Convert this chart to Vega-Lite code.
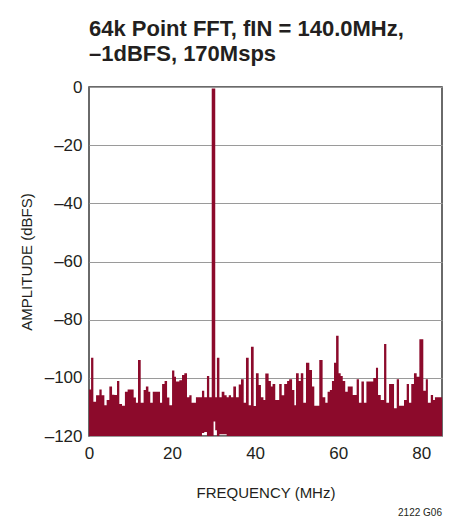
{
  "$schema": "https://vega.github.io/schema/vega-lite/v6.json",
  "width": 353,
  "height": 349,
  "autosize": {"type": "none"},
  "padding": {"left": 89, "top": 87, "right": 9, "bottom": 85},
  "title": {
    "text": ["64k Point FFT, fIN = 140.0MHz,", "–1dBFS, 170Msps"],
    "anchor": "start",
    "frame": "group",
    "font": "Liberation Sans",
    "fontSize": 22,
    "fontWeight": "bold",
    "lineHeight": 25,
    "offset": 12,
    "color": "#231f20"
  },
  "config": {
    "view": {"stroke": "#3a3a3a", "strokeWidth": 1.5},
    "font": "Liberation Sans"
  },
  "data": {
    "values": [
      {"f": 0.0, "db": -104, "lo": -120}, {"f": 0.5, "db": -93.1, "lo": -120}, {"f": 1.05, "db": -108.2, "lo": -120},
      {"f": 1.7, "db": -106, "lo": -120}, {"f": 2.5, "db": -104, "lo": -120}, {"f": 3.05, "db": -106, "lo": -120},
      {"f": 3.7, "db": -109.4, "lo": -120}, {"f": 4.25, "db": -107.6, "lo": -120}, {"f": 4.9, "db": -103, "lo": -120},
      {"f": 5.55, "db": -105.8, "lo": -120}, {"f": 6.1, "db": -105.9, "lo": -120}, {"f": 6.75, "db": -101.1, "lo": -120},
      {"f": 7.3, "db": -109, "lo": -120}, {"f": 7.95, "db": -109.6, "lo": -120}, {"f": 8.65, "db": -104.8, "lo": -120},
      {"f": 9.3, "db": -104, "lo": -120}, {"f": 10.75, "db": -106.8, "lo": -120}, {"f": 11.3, "db": -108.6, "lo": -120},
      {"f": 11.8, "db": -93.9, "lo": -120}, {"f": 12.45, "db": -108.6, "lo": -120}, {"f": 13.15, "db": -104.2, "lo": -120},
      {"f": 13.7, "db": -103, "lo": -120}, {"f": 14.3, "db": -104.8, "lo": -120}, {"f": 14.75, "db": -108.6, "lo": -120},
      {"f": 15.35, "db": -104.8, "lo": -120}, {"f": 17.1, "db": -108.6, "lo": -120}, {"f": 17.6, "db": -102.1, "lo": -120},
      {"f": 18.2, "db": -101.1, "lo": -120}, {"f": 18.8, "db": -106.8, "lo": -120}, {"f": 19.35, "db": -109.4, "lo": -120},
      {"f": 20.0, "db": -97.5, "lo": -120}, {"f": 20.55, "db": -99.6, "lo": -120}, {"f": 20.95, "db": -101.3, "lo": -120},
      {"f": 21.75, "db": -100.8, "lo": -120}, {"f": 22.4, "db": -99, "lo": -120}, {"f": 22.95, "db": -98.4, "lo": -120},
      {"f": 23.6, "db": -106.7, "lo": -120}, {"f": 24.15, "db": -106, "lo": -120}, {"f": 24.7, "db": -108.6, "lo": -120},
      {"f": 25.75, "db": -106.7, "lo": -120}, {"f": 27.2, "db": -104.4, "lo": -119}, {"f": 27.75, "db": -106.7, "lo": -118.6},
      {"f": 28.4, "db": -99.4, "lo": -120}, {"f": 28.95, "db": -106.7, "lo": -120}, {"f": 29.55, "db": -0.5, "lo": -120},
      {"f": 30.0, "db": -0.5, "lo": -115}, {"f": 30.4, "db": -106.7, "lo": -118}, {"f": 30.8, "db": -93.1, "lo": -120},
      {"f": 31.4, "db": -106.7, "lo": -119.4}, {"f": 31.95, "db": -104.8, "lo": -119.4}, {"f": 32.6, "db": -106, "lo": -119.4},
      {"f": 33.15, "db": -106.7, "lo": -120},
      {"f": 33.65, "db": -106, "lo": -120}, {"f": 34.2, "db": -106.7, "lo": -120}, {"f": 34.75, "db": -103, "lo": -120},
      {"f": 35.4, "db": -106.7, "lo": -120}, {"f": 36.05, "db": -102.3, "lo": -120}, {"f": 36.6, "db": -100.5, "lo": -120},
      {"f": 37.25, "db": -108.6, "lo": -120}, {"f": 37.8, "db": -93.1, "lo": -120}, {"f": 38.45, "db": -109.4, "lo": -120},
      {"f": 39.0, "db": -89.3, "lo": -120}, {"f": 39.65, "db": -109.7, "lo": -120}, {"f": 40.2, "db": -98.4, "lo": -120},
      {"f": 40.85, "db": -102.5, "lo": -120}, {"f": 41.4, "db": -106.7, "lo": -120}, {"f": 42.0, "db": -107.6, "lo": -120},
      {"f": 42.45, "db": -98.5, "lo": -120}, {"f": 43.25, "db": -101.1, "lo": -120}, {"f": 43.8, "db": -103, "lo": -120},
      {"f": 44.2, "db": -102.1, "lo": -120}, {"f": 44.85, "db": -107.6, "lo": -120}, {"f": 45.8, "db": -102.1, "lo": -120},
      {"f": 46.4, "db": -106, "lo": -120}, {"f": 47.0, "db": -102.1, "lo": -120}, {"f": 47.7, "db": -101.1, "lo": -120},
      {"f": 48.2, "db": -100.5, "lo": -120}, {"f": 48.9, "db": -104.2, "lo": -120}, {"f": 49.45, "db": -109.4, "lo": -120},
      {"f": 49.85, "db": -98.4, "lo": -120}, {"f": 50.5, "db": -101.1, "lo": -120}, {"f": 51.0, "db": -98.4, "lo": -120},
      {"f": 51.6, "db": -108.6, "lo": -120}, {"f": 52.25, "db": -94.8, "lo": -120}, {"f": 53.05, "db": -97.3, "lo": -120},
      {"f": 53.7, "db": -103, "lo": -120}, {"f": 54.25, "db": -109.6, "lo": -120}, {"f": 55.45, "db": -93.9, "lo": -120},
      {"f": 56.25, "db": -106.7, "lo": -120}, {"f": 56.9, "db": -108.6, "lo": -120}, {"f": 57.45, "db": -104.8, "lo": -120},
      {"f": 58.0, "db": -104.2, "lo": -120}, {"f": 58.5, "db": -101.1, "lo": -120}, {"f": 59.0, "db": -94.8, "lo": -120},
      {"f": 59.5, "db": -85.5, "lo": -120}, {"f": 60.1, "db": -98.4, "lo": -120}, {"f": 60.6, "db": -99.4, "lo": -120},
      {"f": 61.1, "db": -101.1, "lo": -120}, {"f": 61.7, "db": -104.8, "lo": -120}, {"f": 62.3, "db": -103, "lo": -120},
      {"f": 63.5, "db": -105.9, "lo": -120}, {"f": 64.45, "db": -100.5, "lo": -120}, {"f": 65.0, "db": -108.6, "lo": -120},
      {"f": 65.6, "db": -101.3, "lo": -120}, {"f": 66.2, "db": -108.6, "lo": -120}, {"f": 66.8, "db": -101.3, "lo": -120},
      {"f": 68.45, "db": -100.1, "lo": -120}, {"f": 69.1, "db": -96.5, "lo": -120}, {"f": 69.6, "db": -105.9, "lo": -120},
      {"f": 70.25, "db": -107.6, "lo": -120}, {"f": 71.05, "db": -88.4, "lo": -120}, {"f": 71.6, "db": -108.6, "lo": -120},
      {"f": 72.25, "db": -102.1, "lo": -120}, {"f": 73.45, "db": -110.5, "lo": -120}, {"f": 74.1, "db": -100.5, "lo": -120},
      {"f": 74.65, "db": -109.6, "lo": -120}, {"f": 75.85, "db": -107.6, "lo": -120}, {"f": 76.5, "db": -102.1, "lo": -120},
      {"f": 77.05, "db": -108.6, "lo": -120}, {"f": 77.6, "db": -102.1, "lo": -120}, {"f": 78.25, "db": -98.4, "lo": -120},
      {"f": 78.9, "db": -99.6, "lo": -120}, {"f": 79.55, "db": -86.7, "lo": -120}, {"f": 80.5, "db": -104.4, "lo": -120},
      {"f": 81.1, "db": -100.5, "lo": -120}, {"f": 81.6, "db": -108.6, "lo": -120}, {"f": 82.3, "db": -105.9, "lo": -120},
      {"f": 82.85, "db": -107.6, "lo": -120}, {"f": 83.3, "db": -106.7, "lo": -120}, {"f": 84.5, "db": -106.7, "lo": -120},
      {"f": 85.0, "db": -106.7, "lo": -120}
    ]
  },
  "layer": [
    {
      "mark": {"type": "area", "interpolate": "step-after", "color": "#8c0a2b", "clip": true},
      "encoding": {
        "x": {
          "field": "f", "type": "quantitative",
          "scale": {"domain": [0, 85], "nice": false, "zero": false},
          "axis": {
            "values": [0, 20, 40, 60, 80], "grid": false, "ticks": false, "domain": false, "labelFlush": false,
            "labelFontSize": 17, "labelColor": "#231f20", "labelPadding": 9,
            "title": "FREQUENCY (MHz)", "titleFontSize": 15, "titleFontWeight": "normal",
            "titleColor": "#231f20", "titlePadding": 24
          }
        },
        "y": {
          "field": "db", "type": "quantitative",
          "scale": {"domain": [-120, 0], "nice": false, "zero": false},
          "axis": {
            "values": [-120, -100, -80, -60, -40, -20, 0], "grid": true, "gridColor": "#9a9a9a", "gridWidth": 1,
            "ticks": false, "domain": false, "labelFlush": false,
            "labelFontSize": 17, "labelColor": "#231f20", "labelPadding": 7,
            "labelExpr": "datum.value < 0 ? '–' + abs(datum.value) : '' + datum.value",
            "title": "AMPLITUDE (dBFS)", "titleFontSize": 15, "titleFontWeight": "normal",
            "titleColor": "#231f20", "titlePadding": 10
          }
        },
        "y2": {"field": "lo"}
      }
    },
    {
      "data": {"values": [{}]},
      "mark": {"type": "text", "align": "right", "baseline": "middle", "fontSize": 10, "color": "#231f20"},
      "encoding": {
        "x": {"datum": 85},
        "y": {"datum": -146.5},
        "text": {"value": "2122 G06"}
      }
    }
  ]
}
